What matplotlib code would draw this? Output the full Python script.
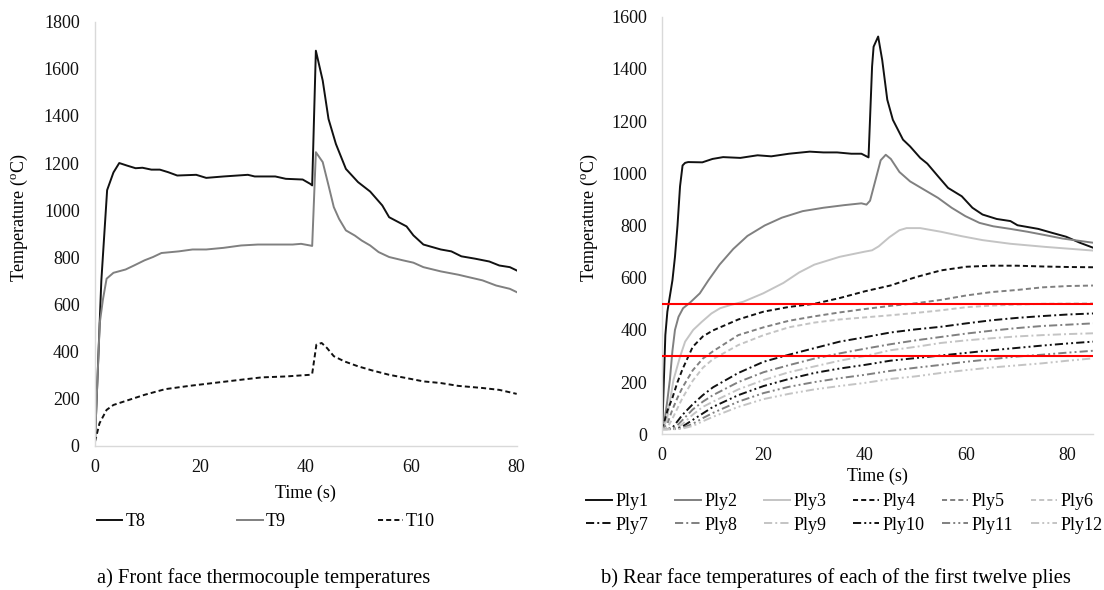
import matplotlib
matplotlib.use("Agg")
import matplotlib.pyplot as plt

plt.rcParams['font.family'] = ['Liberation Serif', 'DejaVu Serif']
plt.rcParams['mathtext.fontset'] = 'custom'
plt.rcParams['mathtext.rm'] = 'Liberation Serif'
plt.rcParams['mathtext.it'] = 'Liberation Serif:italic'
plt.rcParams['font.size'] = 13

# ---------------- data: (a) front face thermocouples ----------------
t_T8 = [0, 1.2, 2.3, 3.5, 4.6, 6.1, 7.7, 9.0, 10.7, 12.3, 13.9, 15.6, 19.2, 21.1, 24.4,
        29.0, 30.3, 34.2, 36.2, 39.4, 40.8, 41.2, 41.9, 43.2, 44.3, 45.7, 47.6, 49.9, 52.2,
        54.5, 55.8, 59.1, 60.4, 62.3, 65.6, 67.6, 69.5, 72.1, 74.8, 76.7, 78.7, 80]
T8 = [20, 700, 1085, 1160, 1200, 1189, 1178, 1180, 1172, 1172, 1161, 1147, 1150, 1137, 1143,
      1150, 1143, 1143, 1133, 1130, 1112, 1105, 1677, 1550, 1387, 1281, 1175, 1119, 1079,
      1020, 970, 931, 893, 854, 833, 825, 804, 794, 782, 765, 758, 744]

t_T9 = [0, 0.9, 1.5, 2.2, 3.5, 5.8, 7.4, 9.4, 11.0, 12.6, 15.9, 18.5, 21.1, 24.4, 27.7,
        30.9, 34.2, 37.5, 39.1, 40.8, 41.2, 41.9, 43.2, 44.3, 45.3, 46.3, 47.6, 49.3, 50.6,
        52.2, 53.8, 55.8, 58.4, 60.4, 62.3, 65.6, 68.9, 70.8, 73.5, 76.1, 78.7, 80]
T9 = [20, 520, 620, 709, 734, 748, 765, 787, 801, 818, 825, 833, 833, 840, 850,
      854, 854, 854, 857, 850, 848, 1246, 1204, 1105, 1013, 963, 914, 892, 871,
      850, 822, 801, 787, 777, 758, 740, 726, 716, 702, 680, 666, 652]

t_T10 = [0, 0.85, 2.2, 3.5, 6.1, 9.4, 13.3, 17.9, 22.4, 27.7, 31.6, 36.2, 40.8, 41.2, 42.0,
         43.0, 44.0, 45.3, 47.3, 49.9, 52.5, 55.8, 59.1, 62.3, 65.6, 68.9, 73.5, 76.7, 80]
T10 = [17, 95, 152, 173, 192, 216, 240, 254, 266, 280, 290, 294, 301, 305, 429,
       436, 415, 380, 358, 337, 320, 301, 287, 273, 266, 254, 245, 237, 220]

# ---------------- data: (b) rear face of plies ----------------
t_ply1 = [0, 0.3, 0.6, 1.0, 1.5, 2.0, 2.5, 3.0, 3.5, 4.0, 4.5, 5.1, 7.9, 9.9, 12.0, 15.4,
          18.8, 21.5, 25.0, 29.1, 31.8, 34.5, 37.3, 39.3, 40.3, 40.7, 41.4, 41.7, 42.6,
          43.4, 44.4, 45.5, 47.5, 48.9, 50.9, 52.3, 54.4, 56.4, 59.1, 61.2, 63.2, 66.0,
          68.7, 70.1, 74.2, 76.9, 79.7, 82.4, 85]
ply1 = [20, 200, 380, 470, 530, 590, 680, 800, 950, 1030, 1040, 1043, 1042, 1055, 1062, 1059,
        1069, 1065, 1075, 1083, 1080, 1080, 1075, 1075, 1065, 1061, 1409, 1485, 1524,
        1434, 1282, 1205, 1129, 1103, 1059, 1037, 989, 944, 912, 868, 842, 825,
        817, 801, 787, 772, 757, 734, 715]

t_ply2 = [0, 0.5, 1.0, 1.5, 2.0, 2.5, 3.2, 4.1, 5.5, 7.4, 9.1, 11.3, 14.0, 16.8, 20.2, 23.6,
          27.7, 31.8, 35.9, 39.3, 40.3, 41.0, 42.1, 43.1, 44.1, 45.1, 46.8, 48.9, 51.6,
          54.4, 57.1, 59.8, 62.6, 65.3, 68.7, 72.1, 75.6, 79.0, 85]
ply2 = [20, 60, 130, 210, 320, 400, 450, 483, 505, 540, 590, 650, 710, 760, 800, 830,
        855, 868, 878, 885, 880, 895, 976, 1050, 1071, 1055, 1005, 969, 938,
        906, 868, 836, 810, 797, 787, 776, 763, 750, 734]

t_ply3 = [0, 0.9, 2.2, 3.5, 4.5, 6.1, 7.8, 9.7, 11.4, 13.4, 16.0, 19.9, 23.9, 27, 30, 35,
          40, 41.4, 42.7, 44.8, 46.8, 48.2, 50.9, 55.0, 59.1, 63.2, 68.7, 75.6, 85]
ply3 = [20, 55, 208, 297, 355, 400, 431, 463, 483, 495, 508, 540, 580, 620, 650, 680,
        700, 705, 720, 755, 782, 790, 790, 776, 759, 744, 730, 718, 704]

t_grid = [0, 1, 2, 3, 4, 6, 8, 10, 15, 20, 25, 30, 35, 40, 45, 50, 55, 60, 65, 70, 75, 80, 85]
ply4 = [20, 90, 140, 200, 250, 335, 375, 398, 440, 470, 488, 500, 522, 548, 570, 602, 628,
        642, 646, 646, 643, 641, 640]
ply5 = [20, 40, 95, 140, 180, 245, 290, 318, 380, 410, 435, 452, 467, 480, 492, 502, 515,
        532, 545, 553, 563, 568, 570]
ply6 = [20, 25, 60, 100, 140, 205, 255, 288, 342, 380, 410, 428, 440, 448, 456, 465, 475,
        487, 493, 497, 500, 501, 502]
ply7 = [20, 20, 25, 50, 75, 115, 150, 180, 235, 278, 305, 330, 355, 372, 390, 402, 412,
        425, 437, 446, 453, 459, 463]
ply8 = [20, 20, 22, 35, 55, 95, 125, 150, 200, 238, 265, 290, 310, 328, 345, 360, 373,
        386, 397, 407, 415, 420, 425]
ply9 = [20, 20, 20, 25, 40, 75, 105, 125, 172, 208, 238, 260, 282, 300, 322, 335, 350,
        360, 368, 375, 380, 384, 387]
ply10 = [20, 20, 20, 22, 30, 55, 80, 105, 150, 185, 212, 235, 252, 266, 282, 292, 302,
         312, 322, 331, 340, 348, 355]
ply11 = [20, 20, 20, 20, 25, 40, 62, 82, 125, 158, 182, 200, 215, 228, 243, 255, 266,
         278, 288, 298, 305, 313, 320]
ply12 = [20, 20, 20, 20, 22, 32, 50, 67, 105, 135, 155, 172, 185, 197, 212, 222, 235,
         246, 256, 264, 272, 282, 291]

limit_lines = [500, 300]

x_ticks_a = [0, 20, 40, 60, 80]
y_ticks_a = [0, 200, 400, 600, 800, 1000, 1200, 1400, 1600, 1800]
x_ticks_b = [0, 20, 40, 60, 80]
y_ticks_b = [0, 200, 400, 600, 800, 1000, 1200, 1400, 1600]

# ---------------- styling ----------------
BLACK = '#111111'
GRAY = '#808080'
LIGHT = '#c4c4c4'
SPINE = '#d9d9d9'
LW = 1.4
DASH = (0, (2.6, 1.6))
DASHDOT = (0, (4.2, 1.6, 1.0, 1.6))
DASHDOTDOT = (0, (4.2, 1.6, 1.0, 1.6, 1.0, 1.6))

W, H = 1104, 590
fig = plt.figure(figsize=(W / 100, H / 100), dpi=100)


def rect(x0, y0, x1, y1):
    return [x0 / W, 1 - y1 / H, (x1 - x0) / W, (y1 - y0) / H]


def style_axes(ax):
    for s in ['top', 'right']:
        ax.spines[s].set_visible(False)
    for s in ['left', 'bottom']:
        ax.spines[s].set_color(SPINE)
        ax.spines[s].set_linewidth(1.0)
    ax.tick_params(axis='both', length=0, labelsize=13, colors='#111111')
    ax.tick_params(axis='y', pad=11)
    ax.tick_params(axis='x', pad=9.5)


# (a)
axL = fig.add_axes(rect(95, 21.7, 516.7, 445.7))
style_axes(axL)
lT8, = axL.plot(t_T8, T8, color=BLACK, lw=LW, label='T8')
lT9, = axL.plot(t_T9, T9, color=GRAY, lw=LW, label='T9')
lT10, = axL.plot(t_T10, T10, color=BLACK, lw=LW, linestyle=DASH, label='T10')
axL.set_xlim(0, 80)
axL.set_ylim(0, 1800)
axL.set_xticks(x_ticks_a)
axL.set_yticks(y_ticks_a)

# (b)
axR = fig.add_axes(rect(662.3, 16.7, 1093, 434.3))
style_axes(axR)
ply_series = [
    (t_ply1, ply1, BLACK, '-'), (t_ply2, ply2, GRAY, '-'), (t_ply3, ply3, LIGHT, '-'),
    (t_grid, ply4, BLACK, DASH), (t_grid, ply5, GRAY, DASH), (t_grid, ply6, LIGHT, DASH),
    (t_grid, ply7, BLACK, DASHDOT), (t_grid, ply8, GRAY, DASHDOT), (t_grid, ply9, LIGHT, DASHDOT),
    (t_grid, ply10, BLACK, DASHDOTDOT), (t_grid, ply11, GRAY, DASHDOTDOT), (t_grid, ply12, LIGHT, DASHDOTDOT),
]
ply_handles = []
for i, (tt, vv, c, ls) in enumerate(ply_series):
    h, = axR.plot(tt, vv, color=c, lw=LW, linestyle=ls, label=f'Ply{i + 1}')
    ply_handles.append(h)
for yv in limit_lines:
    axR.axhline(yv, color='#ff0000', lw=1.5, zorder=5)
axR.set_xlim(0, 85)
axR.set_ylim(0, 1600)
axR.set_xticks(x_ticks_b)
axR.set_yticks(y_ticks_b)

# axis titles
ylab = 'Temperature ($^{\\mathrm{o}}$C)'
fig.text(19 / W, 1 - 218 / H, ylab, rotation=90, ha='center', va='center', fontsize=13)
fig.text(589 / W, 1 - 218 / H, ylab, rotation=90, ha='center', va='center', fontsize=13)
fig.text(305.8 / W, 1 - 493 / H, 'Time (s)', ha='center', va='center', fontsize=13)
fig.text(877.6 / W, 1 - 476.5 / H, 'Time (s)', ha='center', va='center', fontsize=13)

# legends
fig.legend(handles=[lT8, lT9, lT10], loc='center left', bbox_to_anchor=(97 / W, 1 - 522 / H),
           ncol=3, frameon=False, fontsize=13, handlelength=1.4, handletextpad=0.17,
           columnspacing=5.1, borderpad=0, borderaxespad=0)

for col in range(6):
    fig.legend(handles=[ply_handles[col], ply_handles[col + 6]], loc='center left',
               bbox_to_anchor=((586 + col * 88.9) / W, 1 - 513.5 / H), ncol=1,
               frameon=False, fontsize=13, handlelength=1.45, handletextpad=0.2,
               labelspacing=0.35, borderpad=0, borderaxespad=0)

# captions
fig.text(264 / W, 1 - 578 / H, 'a) Front face thermocouple temperatures',
         ha='center', va='center', fontsize=14.8)
fig.text(836 / W, 1 - 578 / H, 'b) Rear face temperatures of each of the first twelve plies',
         ha='center', va='center', fontsize=14.8)

fig.savefig('out.png', dpi=100, facecolor='white')
